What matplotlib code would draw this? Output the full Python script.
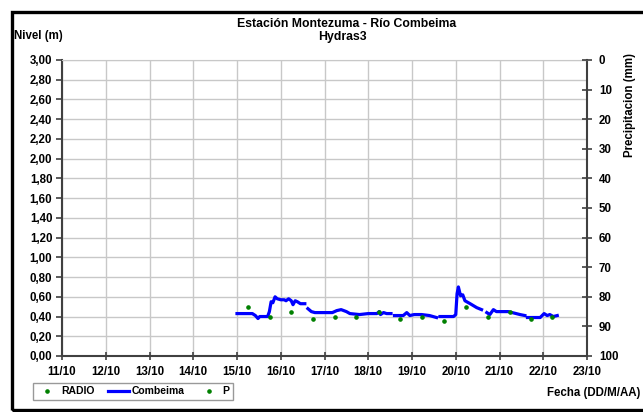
import numpy as np
import matplotlib
matplotlib.use('Agg')
import matplotlib.pyplot as plt
from matplotlib.lines import Line2D
from matplotlib.patches import Rectangle

plt.rcParams['font.family'] = ['Liberation Sans', 'DejaVu Sans']
plt.rcParams['font.weight'] = 'bold'

# nivel Combeima (dia de octubre, metros) - nan = hueco
dia = [15.00, 15.20, 15.35, 15.42, 15.48, 15.52, 15.70, 15.74, 15.78, 15.82, 15.87, 15.92,
       16.00, 16.08, 16.12, 16.18, 16.24, 16.28, 16.33, 16.38, 16.45, 16.55, 16.58,
       16.62, 16.70, 16.78, 17.00, 17.18, 17.28, 17.38, 17.50, 17.58,
       17.80, 18.00, 18.20, 18.25, 18.28, 18.35, 18.42, 18.52, 18.56,
       18.60, 18.80, 18.88, 18.95, 19.05, 19.22, 19.40, 19.56, 19.60,
       19.64, 19.95, 20.00, 20.03, 20.06, 20.11, 20.16, 20.21, 20.33, 20.48, 20.59, 20.65,
       20.71, 20.78, 20.86, 20.93, 21.00, 21.20, 21.47, 21.58, 21.61,
       21.64, 21.93, 22.02, 22.09, 22.15, 22.23, 22.32]
nivel = [0.43, 0.43, 0.43, 0.41, 0.38, 0.40, 0.40, 0.45, 0.55, 0.54, 0.60, 0.58,
         0.57, 0.57, 0.56, 0.58, 0.56, 0.52, 0.56, 0.55, 0.53, 0.53, np.nan,
         0.48, 0.45, 0.44, 0.44, 0.44, 0.46, 0.47, 0.45, 0.43,
         0.42, 0.43, 0.43, 0.45, 0.42, 0.44, 0.43, 0.43, np.nan,
         0.41, 0.41, 0.44, 0.41, 0.42, 0.42, 0.41, 0.39, np.nan,
         0.40, 0.40, 0.42, 0.63, 0.70, 0.61, 0.62, 0.56, 0.53, 0.49, 0.47, np.nan,
         0.44, 0.42, 0.47, 0.45, 0.45, 0.45, 0.42, 0.41, np.nan,
         0.39, 0.39, 0.43, 0.41, 0.42, 0.40, 0.41]

# lecturas RADIO
dia_radio = [15.24, 15.75, 16.23, 16.74, 17.24, 17.73, 18.24, 18.73, 19.24, 19.73,
             20.23, 20.73, 21.23, 21.72, 22.21]
nivel_radio = [0.50, 0.40, 0.45, 0.38, 0.40, 0.40, 0.45, 0.38, 0.40, 0.35,
               0.50, 0.40, 0.45, 0.38, 0.40]

dias = list(range(11, 24))
etiquetas = ['%d/10' % d for d in dias]

fig = plt.figure(figsize=(6.43, 4.12), dpi=100)
ax = fig.add_axes([62/643, 1-356/412, (587-62)/643, (356-60)/412])

gris = '#c8c8c8'
oscuro = '#404040'
fs = 8.3
ax.plot(dia, nivel, color='#0000ff', lw=2.3, zorder=3)
ax.plot(dia_radio, nivel_radio, ls='none', marker='o', ms=2.3, color='#008000', zorder=4)

ax.set_xlim(11, 23)
ax.set_ylim(0, 3)
ax.set_xticks(dias)
ax.set_xticklabels(etiquetas)
yt = np.arange(0, 3.01, 0.2)
ax.set_yticks(yt)
ax.set_yticklabels([('%.2f' % v).replace('.', ',') for v in yt])
ax.grid(True, color=gris, lw=1)
ax.set_axisbelow(True)
for s in ['left', 'bottom', 'right']:
    ax.spines[s].set_color(oscuro)
    ax.spines[s].set_linewidth(1.5)
ax.spines['top'].set_color(gris)
ax.tick_params(axis='y', direction='out', length=4, width=1.2, color=oscuro, labelsize=fs, pad=3)
ax.tick_params(axis='x', direction='inout', length=6, width=1.2, color=oscuro, labelsize=fs, pad=4)

ax2 = ax.twinx()
ax2.set_ylim(100, 0)
ax2.set_yticks(range(0, 101, 10))
ax2.tick_params(axis='y', direction='inout', length=7, width=1.2, color=oscuro, labelsize=fs, pad=5)
for s in ax2.spines.values():
    s.set_visible(False)

fig.text(347/643, 1-24/412, 'Estación Montezuma - Río Combeima', ha='center', va='center', fontsize=8.8)
fig.text(342/643, 1-37/412, 'Hydras3', ha='center', va='center', fontsize=8.8)
fig.text(14/643, 1-36/412, 'Nivel (m)', ha='left', va='center', fontsize=fs)
fig.text(630/643, 1-105/412, 'Precipitacion (mm)', ha='center', va='center', rotation=90, fontsize=fs)
fig.text(640/643, 1-393/412, 'Fecha (DD/M/AA)', ha='right', va='center', fontsize=fs)

handles = [Line2D([], [], ls='none', marker='o', ms=2.3, color='#008000'),
           Line2D([], [], color='#0000ff', lw=2.3),
           Line2D([], [], ls='none', marker='o', ms=2.3, color='#008000')]
leg = fig.legend(handles, ['RADIO', 'Combeima', 'P'], loc='center', ncol=3,
                 bbox_to_anchor=(133/643, 1-391.5/412), fontsize=7.5, frameon=True,
                 fancybox=False, edgecolor='#808080', handlelength=2.0,
                 handletextpad=0.3, columnspacing=1.3, borderpad=0.35)
leg.get_frame().set_linewidth(1)

fig.patches.append(Rectangle((11.5/643, 2/412), 1.0, (410-12)/412, transform=fig.transFigure,
                             fill=False, edgecolor='black', lw=2.4))

fig.savefig('out.png', dpi=100)
